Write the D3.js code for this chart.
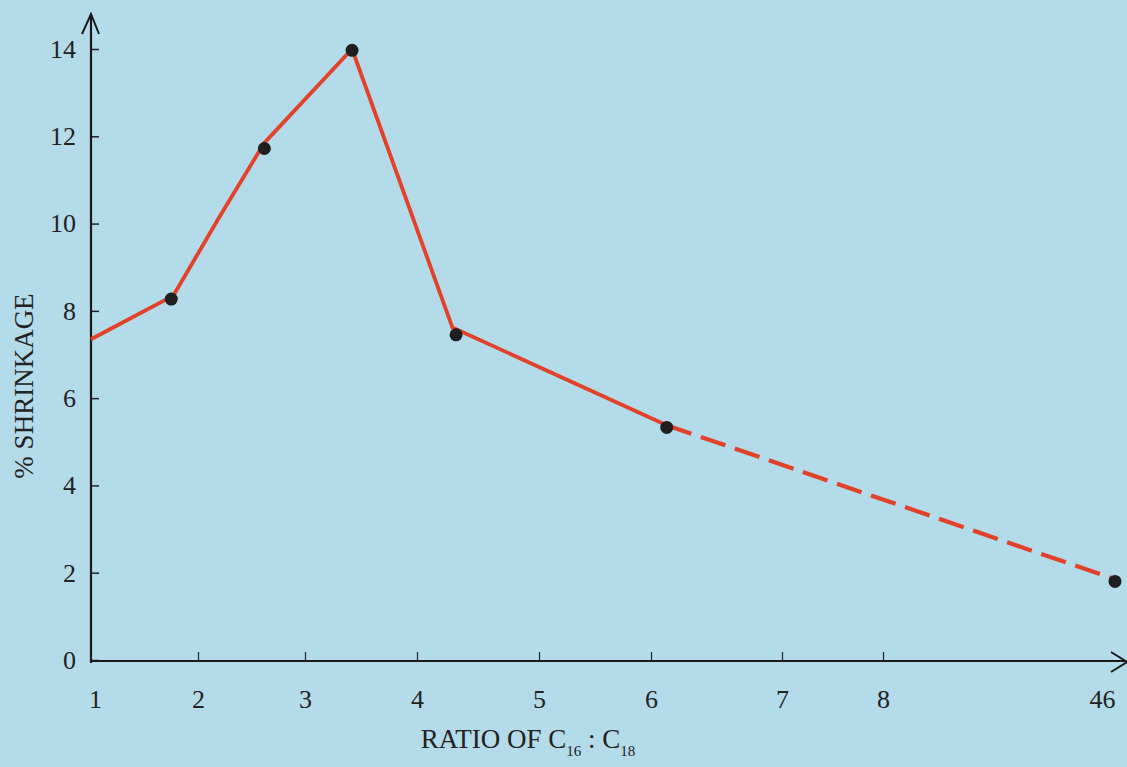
<!DOCTYPE html>
<html>
<head>
<meta charset="utf-8">
<script src="https://cdn.jsdelivr.net/npm/d3@7"></script>
<style>
  html, body { margin: 0; padding: 0; background: #b4dbe9; }
  svg { display: block; }
  text { font-family: "Liberation Serif", "DejaVu Serif", serif; fill: #222; }
</style>
</head>
<body>
<div id="chart"></div>
<script>
// ratio ticks (the axis jumps from 8 to 46)
const ratioTicks = [1, 2, 3, 4, 5, 6, 7, 8, 46];
const shrinkTicks = [0, 2, 4, 6, 8, 10, 12, 14];

// measured points
const pointRatio = [1.75, 2.62, 3.42, 4.32, 6.12, 46];
const pointShrink = [8.27, 11.72, 13.97, 7.45, 5.33, 1.8];

// drawn curve (solid up to ratio 6, dashed out to 46)
const lineRatio = [1, 1.77, 2.2, 2.62, 3.42, 4.29, 6.12];
const lineShrink = [7.35, 8.35, 10.15, 11.85, 14.0, 7.62, 5.38];
const dashRatio = [6.12, 46];
const dashShrink = [5.38, 1.85];

const width = 1127, height = 767;
const margin = {top: 14, right: 2, bottom: 107, left: 91};
const plotBottom = height - margin.bottom;

const svg = d3.select("#chart").append("svg")
    .attr("width", width)
    .attr("height", height);

// hand-spaced axis: the divisions are not even in the original
const xStops = [0, 107, 214, 326, 448, 560, 691, 792, 1024];
const x = d3.scaleLinear()
    .domain(ratioTicks)
    .range(xStops.map(d => margin.left + d));
const y = d3.scaleLinear()
    .domain([0, 14])
    .range([plotBottom, 49]);

// y axis
const gy = svg.append("g")
    .attr("transform", `translate(${margin.left},0)`)
    .call(d3.axisLeft(y).tickValues(shrinkTicks).tickSize(-8).tickPadding(15));
gy.select(".domain").remove();
gy.selectAll(".tick line").attr("stroke", "#222").attr("stroke-width", 1.5);
gy.selectAll(".tick text").style("font-size", "26px");

// x axis
const gx = svg.append("g")
    .attr("transform", `translate(0,${plotBottom})`)
    .call(d3.axisBottom(x).tickValues(ratioTicks).tickSize(-8).tickPadding(30).tickFormat(d3.format("d")));
gx.select(".domain").remove();
gx.selectAll(".tick line")
    .attr("stroke", "#222").attr("stroke-width", 1.2)
    .attr("display", d => (d === 1 || d === 46) ? "none" : null);
gx.selectAll(".tick text")
    .style("font-size", "26px")
    .attr("dx", d => d === 1 ? 4 : d === 46 ? -13 : 0);

// axis lines with open arrowheads
const axisColor = "#1a1a1a";
svg.append("path")
    .attr("d", `M${margin.left},${plotBottom + 3} V${margin.top + 1}`)
    .attr("stroke", axisColor).attr("stroke-width", 2.2).attr("fill", "none");
svg.append("path")
    .attr("d", `M${margin.left - 9},${margin.top + 20} L${margin.left},${margin.top} L${margin.left + 8},${margin.top + 20}`)
    .attr("stroke", axisColor).attr("stroke-width", 2).attr("fill", "none");
svg.append("path")
    .attr("d", `M${margin.left},${plotBottom + 1} H${width - 1}`)
    .attr("stroke", axisColor).attr("stroke-width", 2.2).attr("fill", "none");
svg.append("path")
    .attr("d", `M${width - 16},${plotBottom - 8} L${width},${plotBottom + 2} L${width - 16},${plotBottom + 12}`)
    .attr("stroke", axisColor).attr("stroke-width", 2).attr("fill", "none");

// curves
const line = d3.line()
    .x(d => x(d[0]))
    .y(d => y(d[1]));

svg.append("path")
    .datum(d3.zip(lineRatio, lineShrink))
    .attr("d", line)
    .attr("fill", "none")
    .attr("stroke", "#e2412a")
    .attr("stroke-width", 3.8)
    .attr("stroke-linejoin", "round");

svg.append("path")
    .datum(d3.zip(dashRatio, dashShrink))
    .attr("d", line)
    .attr("fill", "none")
    .attr("stroke", "#e2412a")
    .attr("stroke-width", 4.2)
    .attr("stroke-dasharray", "26 10");

svg.append("g")
    .selectAll("circle")
    .data(d3.zip(pointRatio, pointShrink))
    .join("circle")
    .attr("cx", d => x(d[0]))
    .attr("cy", d => y(d[1]))
    .attr("r", 6.5)
    .attr("fill", "#1f1f1f");

// axis titles
const xTitle = svg.append("text")
    .attr("x", 528)
    .attr("y", 748)
    .attr("text-anchor", "middle")
    .style("font-size", "27px");
xTitle.append("tspan").text("RATIO OF C");
xTitle.append("tspan").attr("dy", 8).style("font-size", "15px").text("16");
xTitle.append("tspan").attr("dy", -8).text(" : C");
xTitle.append("tspan").attr("dy", 8).style("font-size", "15px").text("18");

svg.append("text")
    .attr("transform", `translate(33,386) rotate(-90)`)
    .attr("text-anchor", "middle")
    .style("font-size", "27px")
    .text("% SHRINKAGE");
</script>
</body>
</html>
